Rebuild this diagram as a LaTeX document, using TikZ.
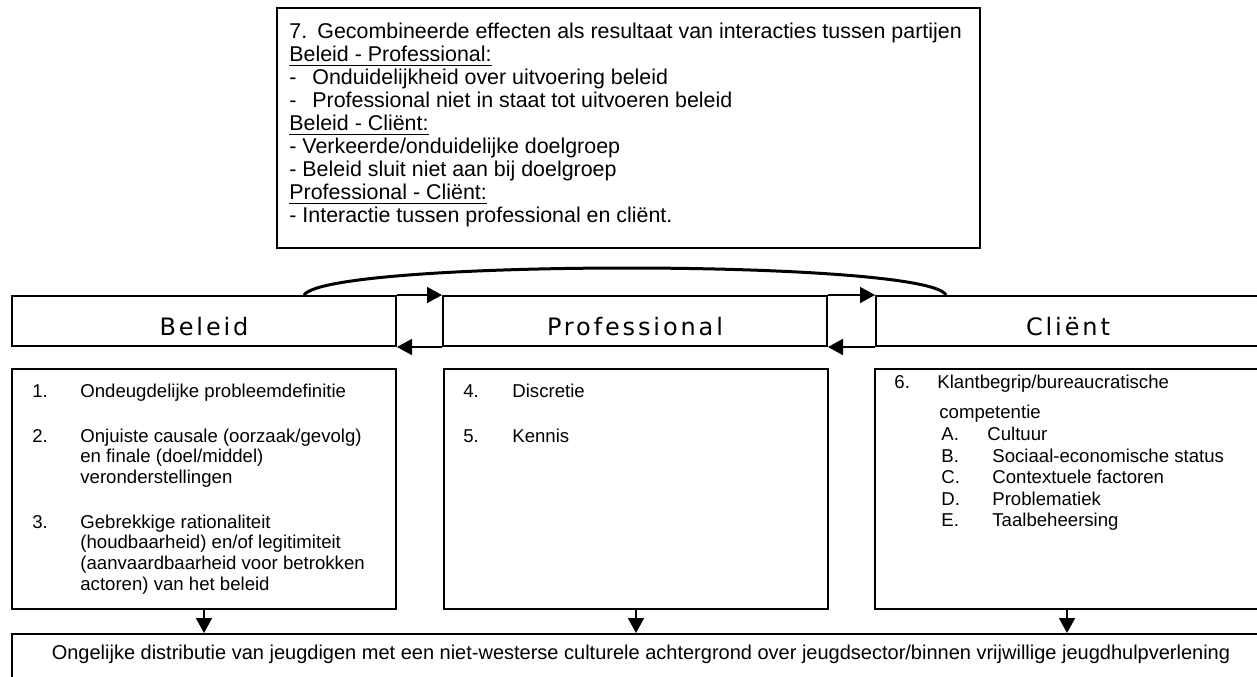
\documentclass[tikz,border=0pt]{standalone}
\usepackage{fontspec}
\setmainfont{Liberation Sans}
\newfontfamily\partyfont[LetterSpace=12]{DejaVu Sans}
\usetikzlibrary{arrows.meta}
\newcommand{\colW}{192pt}
\newcommand{\partyH}{25pt}
\newcommand{\listH}{120pt}
\newcommand{\numcol}[2]{\makebox[#1][l]{#2}}

\tikzset{
  box/.style={draw, line width=1pt, inner sep=0pt},
  party/.style={box, minimum width=\colW, minimum height=\partyH, font=\partyfont\fontsize{12}{14}\selectfont, text height=14pt, text depth=0pt},
  listbox/.style={box, minimum width=\colW, minimum height=\listH},
  listtext/.style={anchor=north west, inner sep=0pt, align=left, font=\fontsize{9.3}{10.35}\selectfont},
  flow/.style={line width=0.8pt, -{Triangle[length=7.5pt,width=8pt]}},
}

\begin{document}
\begin{tikzpicture}[x=0.5pt,y=-0.5pt]
\useasboundingbox (0,0) rectangle (1257,676);
\fill[white] (0,0) rectangle (1257,676);
\clip (0,0) rectangle (1257,676);

% combined effects
\node[box, minimum width=351.5pt, minimum height=120pt] (effects) at (628.5,128) {};
\node[listtext, font=\fontsize{10.7}{11.5}\selectfont] (effectstxt) at ([xshift=6.5pt,yshift=-7.7pt]effects.north west)
{\strut\numcol{14pt}{7.}Gecombineerde effecten als resultaat van interacties tussen partijen\\
\underline{Beleid - Professional:}\\
\numcol{11.5pt}{-}Onduidelijkheid over uitvoering beleid\\
\numcol{11.5pt}{-}Professional niet in staat tot uitvoeren beleid\\
\underline{Beleid - Cliënt:}\\
- Verkeerde/onduidelijke doelgroep\\
- Beleid sluit niet aan bij doelgroep\\
\underline{Professional - Cliënt:}\\
- Interactie tussen professional en cliënt.};

% parties
\node[party] (beleid) at (204,321) {Beleid};
\node[party] (prof) at (635,321) {Professional};
\node[party] (client) at (1068,321) {Cliënt};

\draw[line width=1.5pt] ([xshift=50pt]beleid.north) .. controls ([xshift=62pt,yshift=18pt]beleid.north) and ([xshift=-70.5pt,yshift=18pt]client.north) .. ([xshift=-61pt]client.north);

\draw[flow] (beleid.north east) -- (prof.north west);
\draw[flow] (prof.south west) -- (beleid.south east);
\draw[flow] (prof.north east) -- (client.north west);
\draw[flow] (client.south west) -- (prof.south east);

% factors per party
\node[listbox] (beleidlist) at (204,489) {};
\node[listbox] (proflist) at (636,489) {};
\node[listbox] (clientlist) at (1067,489) {};

\node[listtext] (beleidtxt) at ([xshift=10.5pt,yshift=-7.25pt]beleidlist.north west)
{\strut\numcol{24pt}{1.}Ondeugdelijke probleemdefinitie\\[12pt]
\numcol{24pt}{2.}Onjuiste causale (oorzaak/gevolg)\\
\hspace*{24pt}en finale (doel/middel)\\
\hspace*{24pt}veronderstellingen\\[12pt]
\numcol{24pt}{3.}Gebrekkige rationaliteit\\
\hspace*{24pt}(houdbaarheid) en/of legitimiteit\\
\hspace*{24pt}(aanvaardbaarheid voor betrokken\\
\hspace*{24pt}actoren) van het beleid};

\node[listtext] (proftxt) at ([xshift=10pt,yshift=-7.25pt]proflist.north west)
{\strut\numcol{24.5pt}{4.}Discretie\\[12pt]
\numcol{24.5pt}{5.}Kennis};

\node[listtext, font=\fontsize{9.3}{10.8}\selectfont] (clienttxt) at ([xshift=10pt,yshift=-2.45pt]clientlist.north west)
{\strut\numcol{21.5pt}{6.}Klantbegrip/bureaucratische\\[4.4pt]
\hspace*{22.5pt}competentie\\
\hspace*{23.5pt}\numcol{23pt}{A.}Cultuur\\
\hspace*{23.5pt}\numcol{25.5pt}{B.}Sociaal-economische status\\
\hspace*{23.5pt}\numcol{25.5pt}{C.}Contextuele factoren\\
\hspace*{23.5pt}\numcol{25.5pt}{D.}Problematiek\\
\hspace*{23.5pt}\numcol{25.5pt}{E.}Taalbeheersing};

% outcome
\node[box, anchor=north, minimum width=629pt, text height=7.5pt, text depth=12pt, inner ysep=5pt, font=\fontsize{10}{12}\selectfont] (result) at (641,633)
{Ongelijke distributie van jeugdigen met een niet-westerse culturele achtergrond over jeugdsector/binnen vrijwillige jeugdhulpverlening};

\foreach \col in {beleidlist,proflist,clientlist}
  \draw[flow] (\col.south) -- (\col.south |- result.north);
\end{tikzpicture}
\end{document}
